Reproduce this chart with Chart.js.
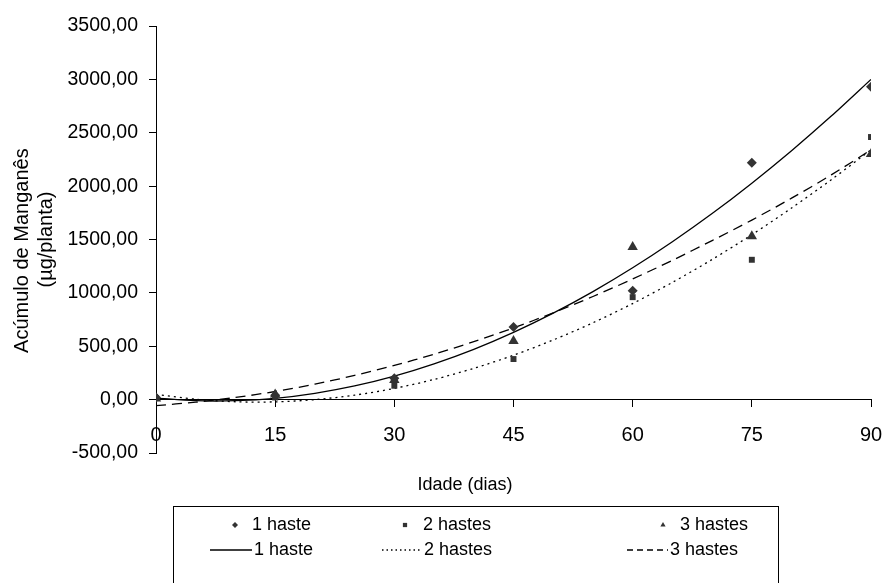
<!DOCTYPE html>
<html>
<head>
<meta charset="utf-8">
<script src="https://cdn.jsdelivr.net/npm/chart.js@4.4.1/dist/chart.umd.min.js"></script>
<style>
  html, body { margin: 0; padding: 0; background: #fff; }
</style>
</head>
<body>
<canvas id="chart" width="885" height="583"></canvas>
<script>
// measured points (dias / µg por planta)
const days = [0, 15, 30, 45, 60, 75, 90]
const haste1 = [20, 40, 200, 680, 1020, 2220, 2930]
const hastes2 = [15, 20, 130, 380, 960, 1310, 2460]
const hastes3 = [10, 47, 185, 550, 1430, 1530, 2300]

// trend lines, every 5 days
const trendDays = [0, 5, 10, 15, 20, 25, 30, 35, 40, 45, 50, 55, 60, 65, 70, 75, 80, 85, 90]
const trend1 = [15, -10, -10, 12, 59, 128, 220, 335, 471, 630, 810, 1012, 1235, 1479, 1743, 2028, 2332, 2656, 3000]
const trend2 = [50, 4, -20, -21, 0, 42, 105, 189, 293, 416, 559, 720, 900, 1098, 1313, 1545, 1795, 2060, 2340]
const trend3 = [-56, -24, 20, 76, 145, 227, 320, 426, 543, 672, 813, 966, 1130, 1305, 1490, 1682, 1887, 2105, 2340]

const labels = ['1 haste', '2 hastes', '3 hastes']
// trailing nbsp nudges the first line down a bit
const yTitle = ['Acúmulo de Manganês\u00a0\u00a0\u00a0\u00a0', '(µg/planta)']
const xTitle = 'Idade (dias)'

const FONT = '"Liberation Sans", Arial, sans-serif'
const MARK = '#333333'

const pts = (xs, ys) => xs.map((x, i) => ({ x, y: ys[i] }))

const trendStyle = (dash) => ({
    type: 'line',
    borderColor: '#000',
    borderWidth: 1.3,
    borderDash: dash,
    pointRadius: 0,
    tension: 0.3,
    fill: false,
    order: 2
})

const datasets = [
    { type: 'scatter', label: labels[0], data: pts(days, haste1), pointStyle: 'rectRot', pointRadius: 5, backgroundColor: MARK, borderColor: MARK, borderWidth: 0, order: 1 },
    { type: 'scatter', label: labels[1], data: pts(days, hastes2), pointStyle: 'rect', pointRadius: 4.2, backgroundColor: MARK, borderColor: MARK, borderWidth: 0, order: 1 },
    { type: 'scatter', label: labels[2], data: pts(days, hastes3), pointStyle: 'triangle', pointRadius: 6, backgroundColor: MARK, borderColor: MARK, borderWidth: 0, order: 1 },
    { label: labels[0], data: pts(trendDays, trend1), ...trendStyle([]) },
    { label: labels[1], data: pts(trendDays, trend2), ...trendStyle([2, 4]) },
    { label: labels[2], data: pts(trendDays, trend3), ...trendStyle([10, 6]) }
]

// legend box + x title, drawn by hand like the Excel one
const boxLegend = {
    id: 'boxLegend',
    afterDraw(chart) {
        const ctx = chart.ctx
        ctx.save()
        ctx.fillStyle = '#000'
        ctx.font = '18px ' + FONT
        ctx.textAlign = 'center'
        ctx.textBaseline = 'middle'
        ctx.fillText(xTitle, 465, 485)

        ctx.strokeStyle = '#000'
        ctx.lineWidth = 1
        ctx.strokeRect(173.5, 506.5, 605, 90)

        ctx.font = '18px ' + FONT
        ctx.textAlign = 'left'
        const markX = [235, 405, 663]
        const textX = [252, 423, 680]
        const lineX = [[210, 252], [382, 422], [627, 668]]
        const row1 = 525, row2 = 550
        chart.data.datasets.forEach((ds, i) => {
            const c = i % 3
            if (ds.type === 'scatter') {
                ctx.fillStyle = MARK
                ctx.strokeStyle = MARK
                Chart.helpers.drawPoint(ctx, { pointStyle: ds.pointStyle, radius: 3, borderWidth: 0, rotation: 0 }, markX[c], row1)
                ctx.fillStyle = '#000'
                ctx.fillText(ds.label, textX[c], row1)
            } else {
                ctx.strokeStyle = '#000'
                ctx.lineWidth = 1.3
                ctx.setLineDash(ds.borderDash.length ? (c == 1 ? [1.5, 3] : [6, 4]) : [])
                ctx.beginPath()
                ctx.moveTo(lineX[c][0], row2)
                ctx.lineTo(lineX[c][1], row2)
                ctx.stroke()
                ctx.setLineDash([])
                ctx.fillStyle = '#000'
                ctx.fillText(ds.label, lineX[c][1] + 2, row2)
            }
        })
        ctx.restore()
    }
}

new Chart(document.getElementById('chart'), {
    data: { datasets },
    options: {
        responsive: false,
        animation: false,
        layout: { padding: { left: 10, top: 26, right: 14, bottom: 130 } },
        plugins: { legend: { display: false }, tooltip: { enabled: false } },
        scales: {
            x: {
                type: 'linear',
                position: { y: 0 },
                min: 0,
                max: 90,
                ticks: { stepSize: 15, color: '#000', padding: 17, font: { family: FONT, size: 20 } },
                grid: { drawOnChartArea: false, drawTicks: true, tickLength: 7, color: '#000' },
                border: { color: '#000', width: 1 },
                afterFit: (scale) => { scale.paddingLeft = 0; scale.paddingRight = 0 }
            },
            y: {
                type: 'linear',
                min: -500,
                max: 3500,
                ticks: {
                    stepSize: 500,
                    color: '#000',
                    padding: 11,
                    font: { family: FONT, size: 19.5 },
                    callback: (v) => v.toFixed(2).replace('.', ',')
                },
                grid: { drawOnChartArea: false, drawTicks: true, tickLength: 7, color: '#000' },
                border: { color: '#000', width: 1 },
                title: { display: true, text: yTitle, color: '#000', padding: 0, font: { family: FONT, size: 20 } },
                afterFit: (scale) => { scale.width = 146 }
            }
        }
    },
    plugins: [boxLegend]
})
</script>
</body>
</html>
